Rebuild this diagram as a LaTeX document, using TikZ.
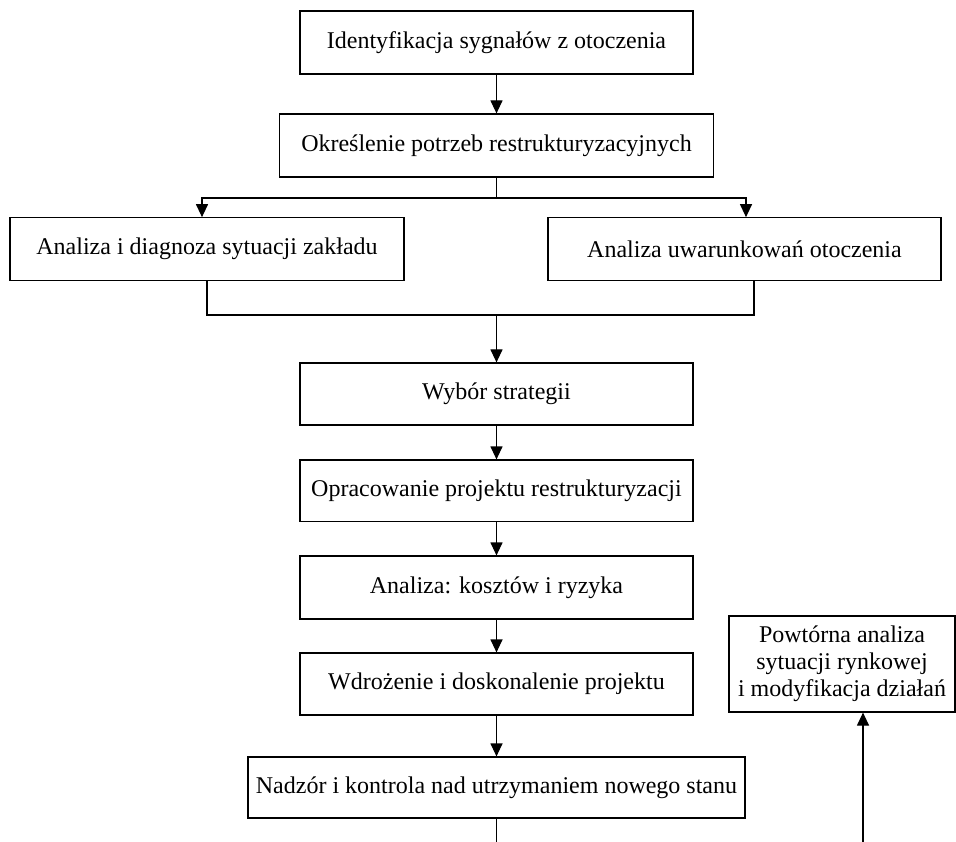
\documentclass[tikz,border=0pt]{standalone}
\usepackage{fontspec}
\setmainfont{Liberation Serif}
\usetikzlibrary{arrows.meta}
\begin{document}
\begin{tikzpicture}[x=1pt,y=-1pt,
  box/.style={draw,line width=1.2pt,inner sep=0pt,align=center,
    font=\fontsize{24}{27}\selectfont},
  conn/.style={line width=1.2pt},
  arr/.style={conn,-{Triangle[width=12pt,length=13pt]}}]
\useasboundingbox (0,0) rectangle (956,842);

% main column
\node[box,minimum width=393,minimum height=63] (ident) at (496.5,42.5) {Identyfikacja sygnałów z otoczenia};
\node[box,minimum width=434,minimum height=63] (potrz) at (496.5,145.5) {Określenie potrzeb restrukturyzacyjnych};
\node[box,minimum width=394,minimum height=62.5] (zaklad) at (207,249) {Analiza i diagnoza sytuacji zakładu};
\node[box,minimum width=393,minimum height=62.5] (otocz) at (744.5,249) {Analiza uwarunkowań otoczenia};
\node[box,minimum width=393,minimum height=62] (wybor) at (496.5,394) {Wybór strategii};
\node[box,minimum width=393,minimum height=61.5] (oprac) at (496.5,490.75) {Opracowanie projektu restrukturyzacji};
\node[box,minimum width=393,minimum height=63] (koszt) at (496.5,587.5) {Analiza: kosztów i ryzyka};
\node[box,minimum width=393,minimum height=62] (wdroz) at (496.5,684) {Wdrożenie i doskonalenie projektu};
\node[box,minimum width=497,minimum height=61] (nadzor) at (496.5,787.5) {Nadzór i kontrola nad utrzymaniem nowego stanu};

% side box
\node[box,minimum width=226,minimum height=96] (powt) at (842,664) {Powtórna analiza\\sytuacji rynkowej\\i modyfikacja działań};

% branching points
\coordinate (split) at (496.5,198);
\coordinate (join) at (496.5,315);
\coordinate (nend) at (496.5,842);
\coordinate (pstart) at (863,842);

% connectors
\draw[arr] (ident) -- (potrz);
\draw[conn] (potrz.south) -- (split);
\draw[arr] (split) -| ([xshift=-5]zaklad.north);
\draw[arr] (split) -| ([xshift=1.5]otocz.north);
\draw[conn] (zaklad.south) |- (join) -| ([xshift=9.5]otocz.south);
\draw[arr] (join) -- (wybor);
\draw[arr] (wybor) -- (oprac);
\draw[arr] (oprac) -- (koszt);
\draw[arr] (koszt) -- (wdroz);
\draw[arr] (wdroz) -- (nadzor);
\draw[conn] (nadzor.south) -- (nend);
\draw[arr] (pstart) -- (pstart |- powt.south);
\end{tikzpicture}
\end{document}
